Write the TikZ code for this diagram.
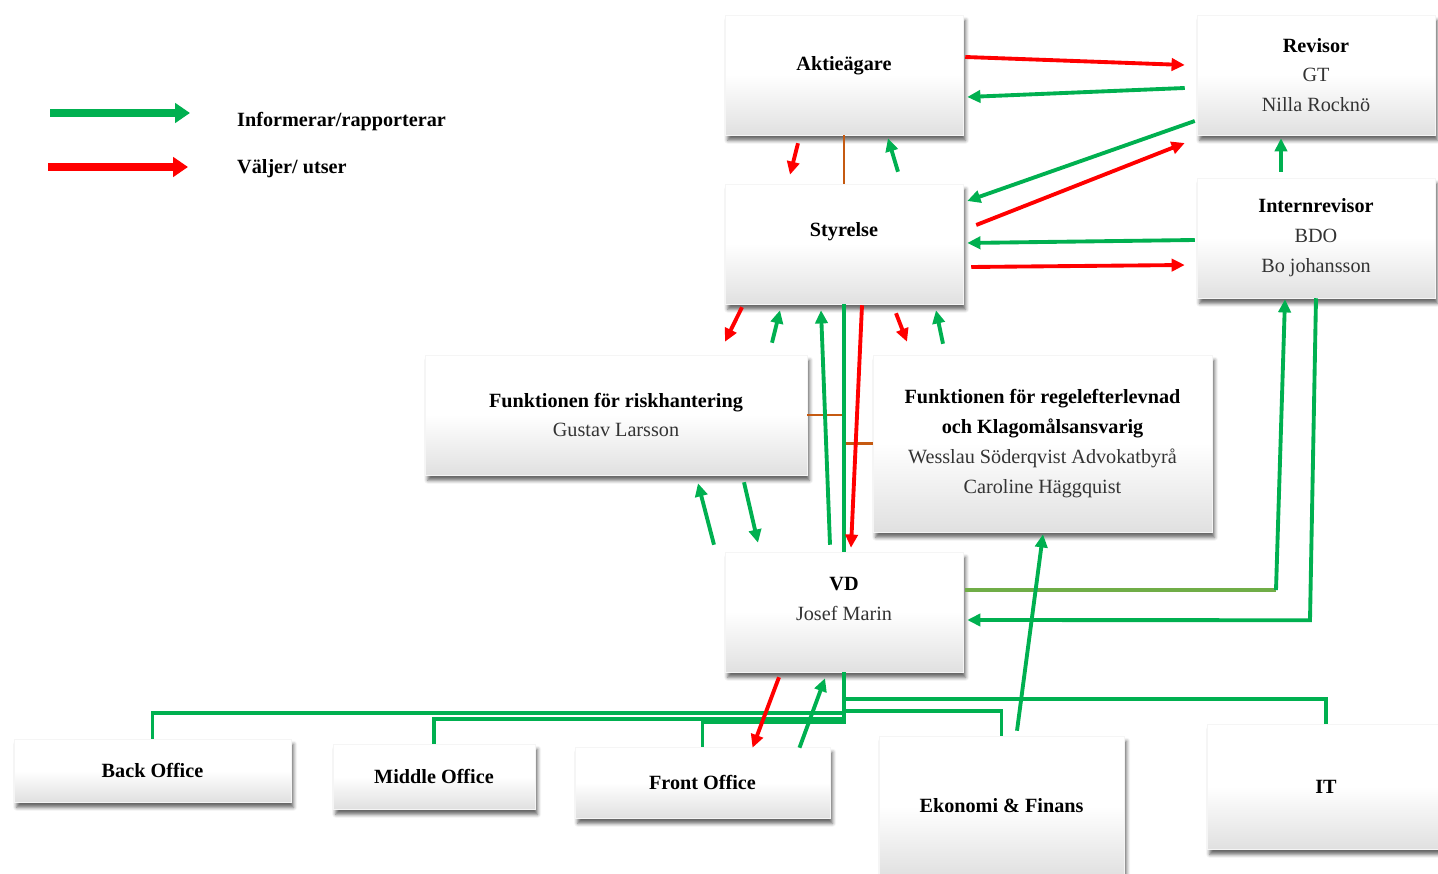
\documentclass[tikz,border=0pt]{standalone}
\usepackage{fontspec}
\setmainfont{Liberation Serif}
\usetikzlibrary{arrows.meta,shadows.blur}

\definecolor{infogreen}{HTML}{00B050}
\definecolor{choosered}{HTML}{FF0000}
\definecolor{linkgreen}{HTML}{70AD47}
\definecolor{linkbrown}{HTML}{C55A11}
\newcommand{\boxhead}[1]{\textcolor{black}{\textbf{#1}}}

\tikzset{
  box/.style={top color=white, bottom color=black!12, middle color=white,
    draw=black!4, line width=0.3pt, align=center, text=black!80,
    blur shadow={shadow xshift=1.5pt, shadow yshift=-3pt,
      shadow blur radius=2pt, shadow opacity=60}},
  boxtext/.style={align=center, text=black!80},
  inform/.style={draw=infogreen, line width=2.2pt, -{Triangle[length=7.5pt,width=7pt]}},
  appoint/.style={draw=choosered, line width=2.2pt, -{Triangle[length=7.5pt,width=7pt]}},
  keyarrow/.style={line width=4.5pt, -{Triangle[length=8.5pt,width=11pt]}},
  branch/.style={draw=infogreen, line width=2pt},
  tie/.style={draw=linkbrown, line width=1.3pt},
}

\begin{document}
\begin{tikzpicture}[x=0.02cm, y=-0.02cm, font=\fontsize{11.5}{17}\selectfont]
  \useasboundingbox (0,0) rectangle (1438,874);

  % legend
  \coordinate (infokey) at (50,113);
  \coordinate (choosekey) at (48,167);
  \draw[keyarrow, infogreen] (infokey) -- ++(140,0);
  \draw[keyarrow, choosered] (choosekey) -- ++(140,0);
  \node[anchor=west] (infolabel) at (231,122) {\textbf{Informerar/rapporterar}};
  \node[anchor=west] (chooselabel) at (231,169) {\textbf{Väljer/ utser}};

  % boxes
  \node[box, minimum width=4.76cm, minimum height=2.4cm] (aktie) at (844,75) {};
  \node[boxtext] (aktietext) at (844,66) {\boxhead{Aktieägare}};
  \node[box, minimum width=4.76cm, minimum height=2.4cm] (revisor) at (1316,75)
    {\boxhead{Revisor}\\GT\\Nilla Rocknö};
  \node[box, minimum width=4.76cm, minimum height=2.4cm] (styrelse) at (844,244) {};
  \node[boxtext] (styrelsetext) at (844,232) {\boxhead{Styrelse}};
  \node[box, minimum width=4.76cm, minimum height=2.4cm] (intern) at (1316,238)
    {\boxhead{Internrevisor}\\BDO\\Bo johansson};
  \node[box, minimum width=7.64cm, minimum height=2.4cm] (risk) at (616,415)
    {\boxhead{Funktionen för riskhantering}\\Gustav Larsson};
  \node[box, minimum width=6.78cm, minimum height=3.54cm] (regel) at (1042.5,443.5)
    {\boxhead{Funktionen för regelefterlevnad}\\\boxhead{och Klagomålsansvarig}\\
     Wesslau Söderqvist Advokatbyrå\\Caroline Häggquist};
  \node[box, minimum width=4.76cm, minimum height=2.4cm] (vd) at (844,612) {};
  \node[boxtext] (vdtext) at (844,599) {\boxhead{VD}\\Josef Marin};
  \node[box, minimum width=5.54cm, minimum height=1.26cm] (back) at (152.5,770.5) {\boxhead{Back Office}};
  \node[box, minimum width=4.04cm, minimum height=1.3cm] (middle) at (434,776.5) {\boxhead{Middle Office}};
  \node[box, minimum width=5.1cm, minimum height=1.42cm] (front) at (702.5,782.5) {\boxhead{Front Office}};
  \node[box, minimum width=4.9cm, minimum height=2.8cm] (ekonomi) at (1001.5,806) {\boxhead{Ekonomi \& Finans}};
  \node[box, minimum width=4.76cm, minimum height=2.5cm] (it) at (1326,786.5) {\boxhead{IT}};

  % Aktieägare <-> Revisor, Styrelse
  \draw[appoint] ([shift={(2,-18)}]aktie.east) -- ([shift={(-12,-10)}]revisor.west);
  \draw[inform] ([shift={(-12,13)}]revisor.west) -- ([shift={(4,22)}]aktie.east);
  \draw[tie] (aktie.south) -- (styrelse.north);
  \draw[appoint] ([shift={(-46,8)}]aktie.south) -- ([shift={(-54,-9)}]styrelse.north);
  \draw[inform] ([shift={(54,-12)}]styrelse.north) -- ([shift={(44,3)}]aktie.south);

  % Styrelse <-> Revisor, Internrevisor
  \draw[inform] ([shift={(-2,46)}]revisor.west) -- ([shift={(4,-43)}]styrelse.east);
  \draw[appoint] ([shift={(13,-19)}]styrelse.east) -- ([shift={(-12,68)}]revisor.west);
  \draw[inform] ([shift={(-2,2)}]intern.west) -- ([shift={(4,-1)}]styrelse.east);
  \draw[appoint] ([shift={(8,23)}]styrelse.east) -- ([shift={(-12,27)}]intern.west);
  \draw[inform] ([shift={(-35,-6)}]intern.north) -- ([shift={(-35,3)}]revisor.south);

  % Styrelse <-> funktionerna, VD
  \draw[tie] (risk.east) -- (risk.east -| vd.north);
  \draw[tie] (regel.west -| vd.north) -- (regel.west);
  \draw[branch] (styrelse.south) -- (vd.north);
  \draw[appoint] ([shift={(-102,3)}]styrelse.south) -- ([shift={(109,-13)}]risk.north);
  \draw[inform] ([shift={(156,-12)}]risk.north) -- ([shift={(-64,6)}]styrelse.south);
  \draw[appoint] ([shift={(52,9)}]styrelse.south) -- ([shift={(-135.5,-13)}]regel.north);
  \draw[inform] ([shift={(-99.5,-11)}]regel.north) -- ([shift={(92,6)}]styrelse.south);
  \draw[inform] ([shift={(-14,-7)}]vd.north) -- ([shift={(-23,6)}]styrelse.south);
  \draw[appoint] ([shift={(18,1)}]styrelse.south) -- ([shift={(7,-4)}]vd.north);

  % VD <-> riskhantering
  \draw[inform] ([shift={(-130,-7)}]vd.north) -- ([shift={(82,8)}]risk.south);
  \draw[inform] ([shift={(128,7)}]risk.south) -- ([shift={(-86,-9)}]vd.north);

  % VD <-> Internrevisor
  \coordinate (vdturn) at (1276,590);
  \draw[linkgreen, line width=2pt] ([shift={(2,-22)}]vd.east) -- (vdturn);
  \draw[inform] (vdturn) -- ([shift={(-31,1)}]intern.south);
  \draw[inform] (intern.south) -- ++(-6,322) -- ([shift={(4,8)}]vd.east);

  % VD -> avdelningar
  \foreach \dept/\drop in {it/27, ekonomi/39, back/41, middle/47, front/50}
    \draw[branch] (vd.south) -- ++(0,\drop) -| (\dept.north);
  \draw[appoint] ([shift={(-65,5)}]vd.south) -- ([shift={(50,1)}]front.north);
  \draw[inform] ([shift={(97,1)}]front.north) -- ([shift={(-19,6)}]vd.south);
  \draw[inform] ([shift={(15.5,-5)}]ekonomi.north) -- ([shift={(0.5,2)}]regel.south);
\end{tikzpicture}
\end{document}
